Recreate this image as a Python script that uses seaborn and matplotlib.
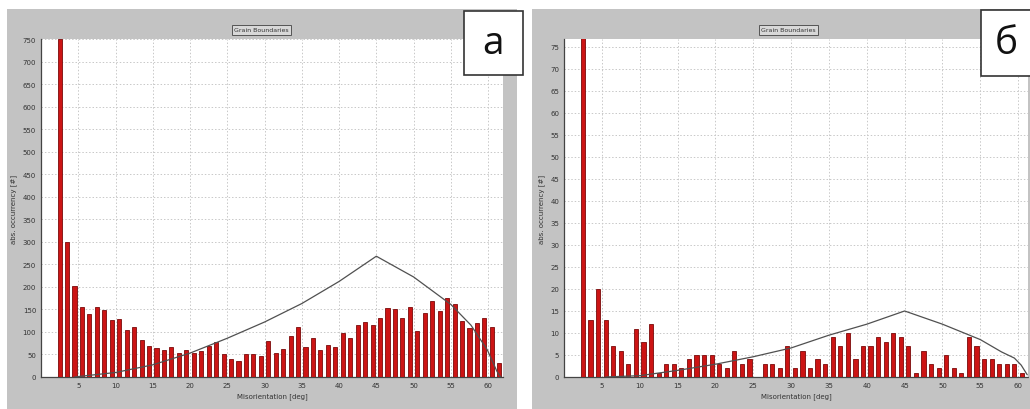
import numpy as np
import pandas as pd
import matplotlib
matplotlib.use("Agg")
import matplotlib.pyplot as plt
from matplotlib.patches import Rectangle
import seaborn as sns

sns.set_style("white")
plt.rcParams['font.family'] = ['DejaVu Sans']

# ---- data ----
angles_a = [2.5 + i for i in range(60)]
counts_a = [750, 300, 202, 156, 140, 156, 148, 126, 129, 104,
            112, 82, 69, 64, 59, 66, 53, 60, 54, 57,
            69, 78, 51, 39, 36, 50, 51, 47, 79, 54,
            63, 92, 111, 66, 87, 60, 71, 66, 97, 86,
            116, 122, 116, 131, 152, 150, 131, 156, 101, 141,
            169, 146, 176, 162, 125, 108, 119, 131, 110, 30]

angles_b = [2.5 + i for i in range(59)]
counts_b = [80, 13, 20, 13, 7, 6, 3, 11, 8, 12,
            1, 3, 3, 2, 4, 5, 5, 5, 3, 2,
            6, 3, 4, 0, 3, 3, 2, 7, 2, 6,
            2, 4, 3, 9, 7, 10, 4, 7, 7, 9,
            8, 10, 9, 7, 1, 6, 3, 2, 5, 2,
            1, 9, 7, 4, 4, 3, 3, 3, 1]

curve_x_a = [4.5, 5, 10, 15, 20, 25, 30, 35, 40, 45, 50, 55, 57.7, 59.9, 61.2, 61.7]
curve_y_a = [0, 1, 10, 27, 53, 86, 122, 163, 212, 268, 222, 161, 115, 60, 12, 0]

curve_x_b = [5.5, 10, 15, 20, 25, 30, 35, 40, 45, 50, 55, 57.8, 59.5, 60.4, 61.2]
curve_y_b = [0, 0.3, 1.5, 2.9, 4.6, 6.6, 9.5, 12.0, 15.0, 12.0, 8.5, 5.7, 4.3, 2.7, 0.5]

W, H = 1030, 410
fig = plt.figure(figsize=(W / 100, H / 100), dpi=100)
fig.patch.set_facecolor("white")

GRAY = "#c3c3c3"
# gray panels
fig.add_artist(Rectangle((7 / W, 0), 510 / W, 400 / H, transform=fig.transFigure,
                         facecolor=GRAY, edgecolor="none", zorder=0))
fig.add_artist(Rectangle((532 / W, 0), 498 / W, 400 / H, transform=fig.transFigure,
                         facecolor=GRAY, edgecolor="none", zorder=0))

def make_axes(x0, x1, y0, y1):
    return fig.add_axes([x0 / W, (H - y1) / H, (x1 - x0) / W, (y1 - y0) / H])

ax_a = make_axes(41, 503, 40, 378)
ax_b = make_axes(564, 1028, 40, 378)

BAR = "#cc1414"
EDGE = "#7a0a0a"
LINE = "#505050"

def style(ax, angles, counts, cx, cy, xmax, ymax, ystep, title_x):
    df = pd.DataFrame({"angle": angles, "count": counts})
    sns.barplot(data=df, x="angle", y="count", native_scale=True, width=0.55,
                color=BAR, edgecolor=EDGE, linewidth=0.6, saturation=1,
                ax=ax, zorder=3)
    dc = pd.DataFrame({"angle": cx, "val": cy})
    sns.lineplot(data=dc, x="angle", y="val", color=LINE, linewidth=0.9,
                 ax=ax, zorder=4, sort=False)
    ax.set_xlim(0, xmax)
    ax.set_ylim(0, ymax)
    ax.set_facecolor("white")
    ax.set_xticks(np.arange(5, 61, 5))
    ax.set_xticklabels([str(v) for v in range(5, 61, 5)])
    yt = np.arange(0, ymax + 0.01, ystep)
    ax.set_yticks(yt)
    ax.set_yticklabels([str(int(v)) for v in yt])
    ax.tick_params(labelsize=5, colors="#333333", length=2, width=0.5, pad=1.5)
    ax.grid(True, linestyle=(0, (1.5, 2)), color="#c8c8c8", linewidth=0.7)
    ax.set_axisbelow(True)
    for s in ("top", "right"):
        ax.spines[s].set_visible(False)
    ax.spines["left"].set_color("#444444")
    ax.spines["left"].set_linewidth(0.9)
    ax.spines["bottom"].set_color("#444444")
    ax.spines["bottom"].set_linestyle((0, (2, 1)))
    ax.spines["bottom"].set_linewidth(0.9)
    ax.set_xlabel("Misorientation [deg]", fontsize=5, color="#333333", labelpad=3)
    ax.set_ylabel("abs. occurrency [#]", fontsize=5, color="#333333", labelpad=4)
    fig.text(title_x / W, (H - 31) / H, "Grain Boundaries", fontsize=4.5,
             ha="center", va="center", color="#333333",
             bbox=dict(boxstyle="square,pad=0.35", facecolor="#d8d8d8",
                       edgecolor="#555555", linewidth=0.7))

style(ax_a, angles_a, counts_a, curve_x_a, curve_y_a, 62, 750, 50, 261)
style(ax_b, angles_b, counts_b, curve_x_b, curve_y_b, 61.3, 76.8, 5, 788)

# panel label boxes
def label_box(x0, x1, y0, y1, txt):
    fig.add_artist(Rectangle((x0 / W, (H - y1) / H), (x1 - x0) / W, (y1 - y0) / H,
                             transform=fig.transFigure, facecolor="white",
                             edgecolor="#333333", linewidth=1.2, zorder=10))
    fig.text((x0 + x1) / 2 / W, (H - (y0 + y1) / 2) / H, txt, fontsize=28,
             ha="center", va="center", family=["Open Sans", "DejaVu Sans"],
             color="#111111", zorder=11)

label_box(464, 523, 12, 76, "а")
label_box(981, 1032, 11, 77, "б")

fig.savefig("out.png", dpi=100, facecolor="white")
